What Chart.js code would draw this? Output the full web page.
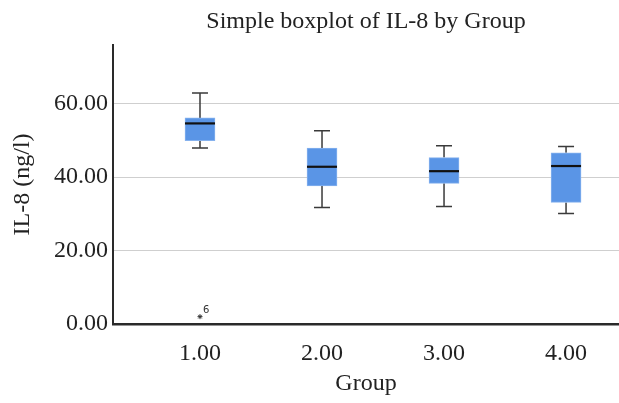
<!DOCTYPE html>
<html>
<head>
<meta charset="utf-8">
<script src="https://cdn.jsdelivr.net/npm/chart.js@4.4.1/dist/chart.umd.min.js"></script>
<style>
  body { margin: 0; background: #fff; }
</style>
</head>
<body>
<canvas id="boxChart" width="619" height="403"></canvas>
<script>
// group positions and tick labels
const groups = [1, 2, 3, 4];
const xTicks = [1, 2, 3, 4];
const yTicks = [0, 20, 40, 60];

// box plot summary per group
const mins = [47.9, 31.7, 32.0, 30.1];
const q1s = [49.9, 37.6, 38.3, 33.1];
const medians = [54.6, 42.8, 41.6, 43.0];
const q3s = [56.1, 47.9, 45.3, 46.6];
const maxs = [62.9, 52.6, 48.5, 48.3];

// extreme values (star) and their case numbers
const outlierGroups = [1];
const outlierValues = [2.0];
const outlierLabels = ["6"];

const serif = "'Liberation Serif', 'Times New Roman', serif";

// whiskers behind boxes, medians and outlier labels on top
const boxParts = {
    id: "boxParts",
    beforeDatasetsDraw(chart) {
        const ctx = chart.ctx;
        const x = chart.scales.x;
        const y = chart.scales.y;
        ctx.save();
        ctx.strokeStyle = "#3a3a3a";
        ctx.lineWidth = 1.5;
        groups.forEach((g, i) => {
            const px = x.getPixelForValue(g);
            ctx.beginPath();
            ctx.moveTo(px, y.getPixelForValue(maxs[i]));
            ctx.lineTo(px, y.getPixelForValue(q3s[i]));
            ctx.moveTo(px, y.getPixelForValue(q1s[i]));
            ctx.lineTo(px, y.getPixelForValue(mins[i]));
            ctx.moveTo(px - 8, y.getPixelForValue(maxs[i]));
            ctx.lineTo(px + 8, y.getPixelForValue(maxs[i]));
            ctx.moveTo(px - 8, y.getPixelForValue(mins[i]));
            ctx.lineTo(px + 8, y.getPixelForValue(mins[i]));
            ctx.stroke();
        });
        ctx.restore();
    },
    afterDatasetsDraw(chart) {
        const ctx = chart.ctx;
        const x = chart.scales.x;
        const y = chart.scales.y;
        ctx.save();
        ctx.strokeStyle = "#111";
        ctx.lineWidth = 2.2;
        groups.forEach((g, i) => {
            const px = x.getPixelForValue(g);
            const py = y.getPixelForValue(medians[i]);
            ctx.beginPath();
            ctx.moveTo(px - 15, py);
            ctx.lineTo(px + 15, py);
            ctx.stroke();
        });
        // case number next to the star
        ctx.fillStyle = "#333";
        ctx.font = "10px 'DejaVu Sans', sans-serif";
        ctx.textBaseline = "middle";
        outlierGroups.forEach((g, i) => {
            ctx.fillText(outlierLabels[i], x.getPixelForValue(g) + 3, y.getPixelForValue(outlierValues[i]) - 6);
        });
        ctx.restore();
    }
};

const ctx = document.getElementById("boxChart");

new Chart(ctx, {
    type: "bar",
    data: {
        datasets: [{
            label: "IL-8",
            data: groups.map((g, i) => ({ x: g, y: [q1s[i], q3s[i]] })),
            backgroundColor: "#5a95e6",
            borderColor: "#86b2ee",
            borderWidth: 1,
            borderSkipped: false,
            barThickness: 30
        }, {
            type: "scatter",
            label: "Extreme",
            data: outlierGroups.map((g, i) => ({ x: g, y: outlierValues[i] })),
            pointStyle: "star",
            radius: 2.5,
            borderColor: "#333",
            borderWidth: 1
        }]
    },
    options: {
        responsive: false,
        animation: false,
        layout: { padding: 0, autoPadding: false },
        plugins: {
            legend: { display: false },
            tooltip: { enabled: false },
            title: {
                display: true,
                text: "Simple boxplot of IL-8 by Group",
                fullSize: false,
                color: "#222",
                font: { family: serif, size: 24, weight: "normal" },
                padding: { top: 7, bottom: 9 }
            }
        },
        scales: {
            x: {
                type: "linear",
                offset: false,
                min: 0.287,
                max: 4.434,
                afterBuildTicks: (scale) => { scale.ticks = xTicks.map(v => ({ value: v })); },
                afterFit: (scale) => { scale.height = 79; },
                grid: { display: false, drawTicks: false },
                border: { color: "#2a2a2a", width: 2.5 },
                ticks: {
                    color: "#222",
                    font: { family: serif, size: 24 },
                    padding: 15,
                    callback: (v) => Number(v).toFixed(2)
                },
                title: {
                    display: true,
                    text: "Group",
                    color: "#222",
                    font: { family: serif, size: 24 },
                    padding: { top: 0, bottom: 5 }
                }
            },
            y: {
                min: 0,
                max: 76,
                afterBuildTicks: (scale) => { scale.ticks = yTicks.map(v => ({ value: v })); },
                afterFit: (scale) => { scale.width = 113; },
                grid: {
                    drawTicks: false,
                    color: (c) => c.tick && c.tick.value === 0 ? "rgba(0,0,0,0)" : "#cfcfcf",
                    lineWidth: 1
                },
                border: { color: "#2a2a2a", width: 2 },
                ticks: {
                    color: "#222",
                    font: { family: serif, size: 24 },
                    padding: 5,
                    callback: (v) => Number(v).toFixed(2)
                },
                title: {
                    display: true,
                    text: "IL-8 (ng/l)",
                    color: "#222",
                    font: { family: serif, size: 24 },
                    padding: { top: 8, bottom: 0 }
                }
            }
        }
    },
    plugins: [boxParts]
});
</script>
</body>
</html>
